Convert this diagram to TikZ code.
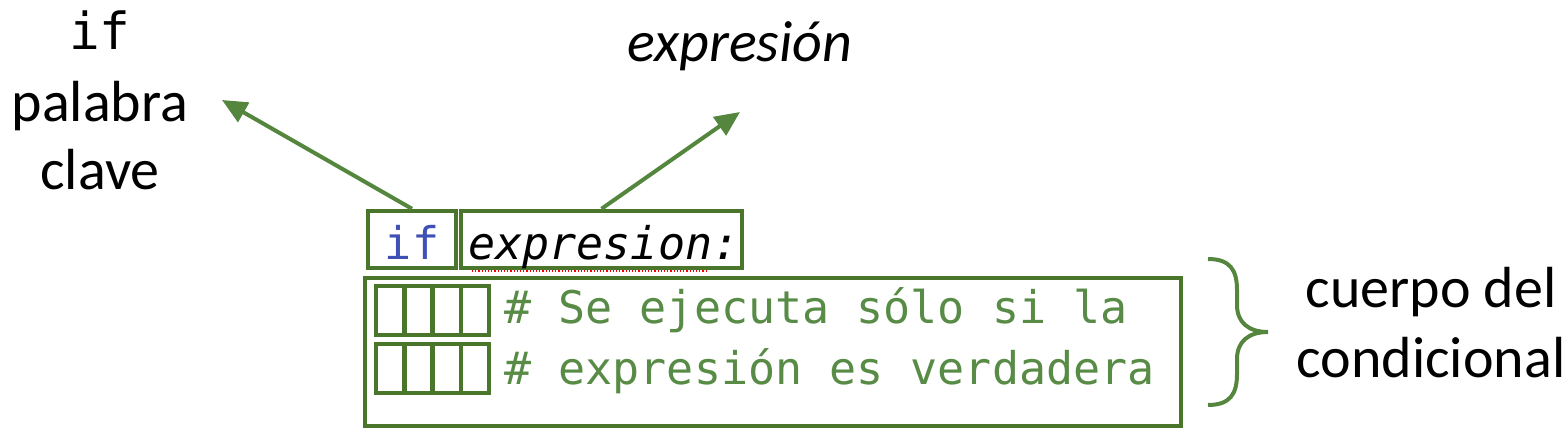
\documentclass[tikz,border=0pt]{standalone}
\usepackage{fontspec}
\setmainfont{Carlito}
\setmonofont{DejaVu Sans Mono}
\usetikzlibrary{arrows.meta,positioning,calc}
\definecolor{boxgreen}{RGB}{74,118,44}
\definecolor{arrowgreen}{RGB}{84,134,62}
\definecolor{commentgreen}{RGB}{88,140,70}
\definecolor{kwblue}{RGB}{63,81,181}
\tikzset{
    lbl/.style={
        font=\fontsize{29}{35}\selectfont,
        inner sep=0pt,
        anchor=base,
    },
    code/.style={
        font=\ttfamily\fontsize{22.5}{27}\selectfont,
        inner sep=0pt,
    },
    codebox/.style={
        rectangle,
        draw=boxgreen,
        line width=2.2pt,
        inner sep=0pt,
        minimum height=28.5pt,
    },
    indent/.style={
        rectangle,
        draw=boxgreen,
        line width=2.2pt,
        inner sep=0pt,
        minimum width=14.1pt,
        minimum height=24.5pt,
    },
    pointer/.style={
        draw=arrowgreen,
        line width=2pt,
        -{Triangle[length=12.5pt,width=11pt]},
    },
}

\begin{document}
\begin{tikzpicture}[x=0.5pt,y=-0.5pt]
    \useasboundingbox (0,0) rectangle (1568,448);
    % labels
    \node [lbl,font=\ttfamily\fontsize{25.5}{30}\selectfont] at (100,50) (kwcode) {if};
    \node [lbl] at (100,122) (kw1) {palabra};
    \node [lbl] at (100,190) (kw2) {clave};
    \node [lbl] at (740,62) (exprlbl) {\itshape expresión};
    \node [lbl] at (1431,308) (body1) {cuerpo del};
    \node [lbl] at (1431,378) (body2) {condicional};
    % code line
    \node [codebox,minimum width=44pt] at (412,239.5) (ifbox) {};
    \node [codebox,minimum width=140.5pt] at (601.5,239.5) (exprbox) {};
    \node [code,anchor=base,text=kwblue] at (ifbox |- 0,260) (ifkw) {if};
    \node [code,anchor=base west] at (468,260) (exprcode) {\itshape expresion:};
    \draw [red,densely dotted,line width=0.6pt] (472,271) -- (708,271);
    % body
    \node [codebox,minimum width=408pt,minimum height=74pt] at (773,352) (body) {};
    \foreach \r/\y in {1/310.5,2/368.5}{
        \foreach \c/\x in {1/390.1,2/418.4,3/446.6,4/474.9}{
            \node [indent] at (\x,\y) (ind\r\c) {};
        }
    }
    \node [code,anchor=base west,text=commentgreen] at (504,324) (cmt1) {\# Se ejecuta sólo si la};
    \node [code,anchor=base west,text=commentgreen] at (504,385) (cmt2) {\# expresión es verdadera};
    % arrows
    \coordinate (kwtip) at (222,100);
    \coordinate (exprtip) at (740,112);
    \draw [pointer] (ifbox.north) -- (kwtip);
    \draw [pointer] (exprbox.north) -- (exprtip);
    % brace
    \draw [arrowgreen,line width=2pt] (1208,259)
        .. controls (1230,259) and (1237,270) .. (1237,290) -- (1237,305)
        .. controls (1237,322) and (1248,332) .. (1268,332)
        .. controls (1248,332) and (1237,342) .. (1237,359) -- (1237,374)
        .. controls (1237,394) and (1230,405) .. (1208,405);
\end{tikzpicture}
\end{document}
